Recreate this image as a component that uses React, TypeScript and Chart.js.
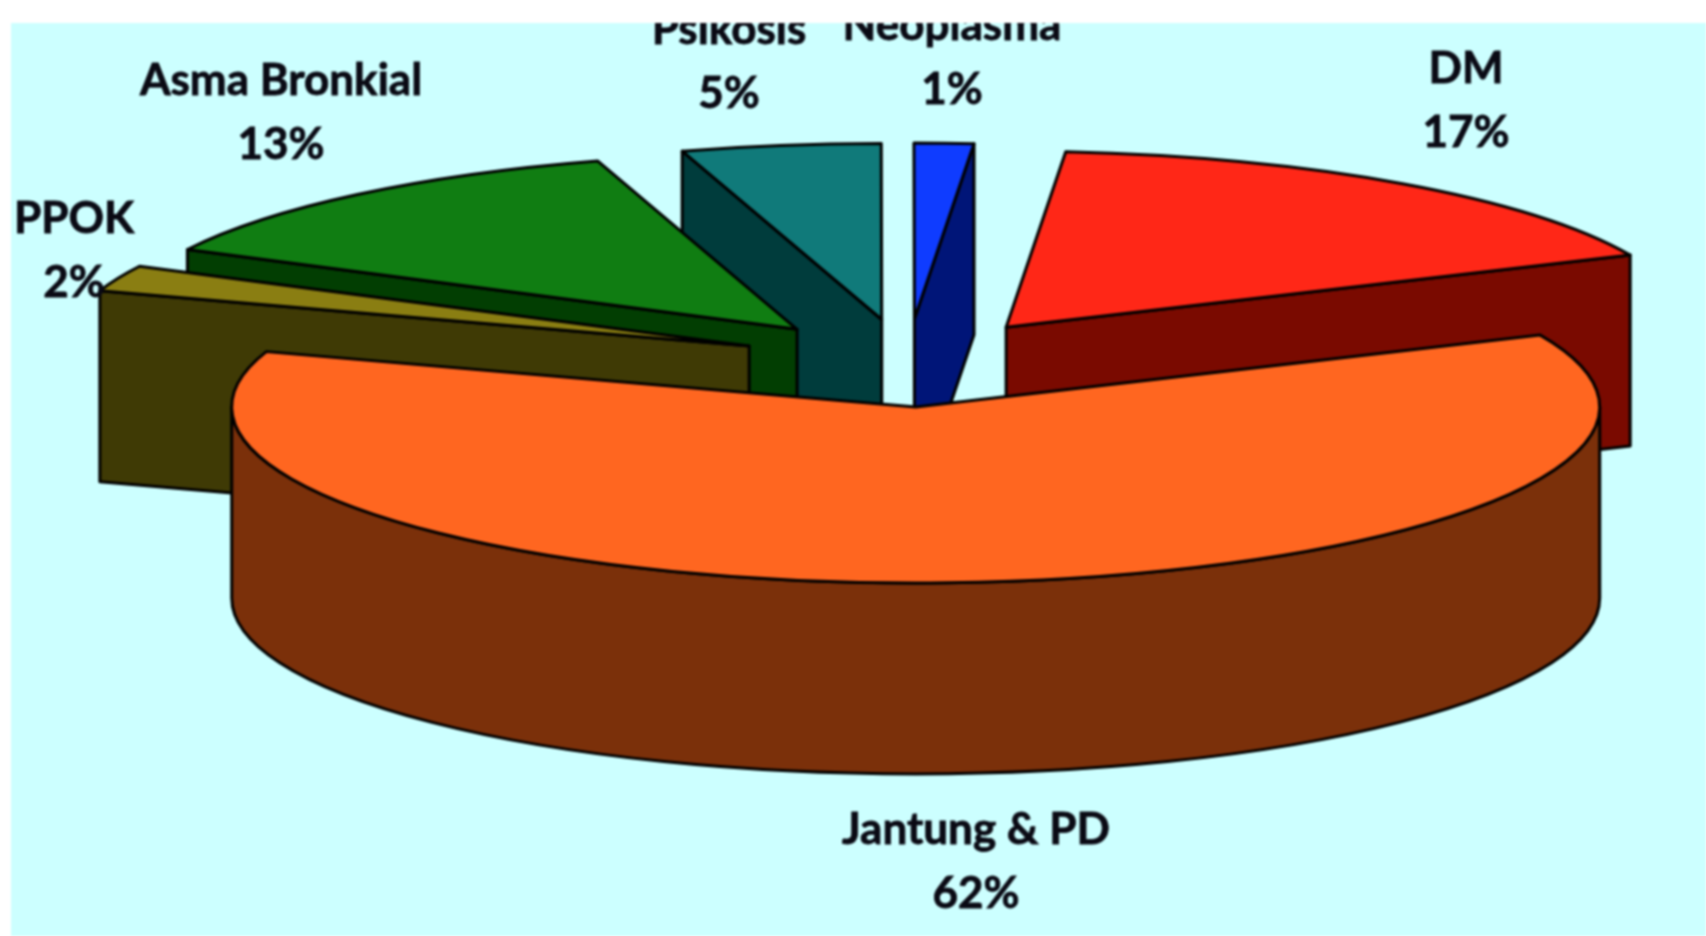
import React, { useEffect, useRef } from "react";
import { Chart, registerables } from "chart.js";

Chart.register(...registerables);

const categories = ["DM", "Jantung & PD", "PPOK", "Asma Bronkial", "Psikosis", "Neoplasma"];
const percentages = [16.9, 61.8, 2.4, 12.8, 4.7, 1.4];
const faceColors = ["#FF2717", "#FF6620", "#8A7E12", "#107D12", "#107A7A", "#0F3CFF"];
const wallColors = ["#7A0A00", "#7B300A", "#3F3A05", "#023E02", "#003C3C", "#001578"];

const labelCenters = [
  [1466, 69], [976, 830], [74, 219], [281, 81], [729, 30], [952, 26],
];
const LINE_GAP = 64;
const FONT = 'bold 44px Lato, "Open Sans", sans-serif';

const VIEW = { cx: 907, cy: 363, rx: 684, ry: 176, depth: 191, explode: 0.25, left: 11, top: 23 };

const pie3d = {
  id: "pie3d",
  beforeDraw(chart: any) {
    const { ctx, width, height } = chart;
    ctx.save();
    ctx.fillStyle = "#FFFFFF";
    ctx.fillRect(0, 0, width, height);
    ctx.fillStyle = "#CCFFFF";
    ctx.fillRect(VIEW.left, VIEW.top, width - VIEW.left, height - VIEW.top);
    ctx.restore();
  },
  beforeDatasetsDraw(chart: any) {
    const { ctx } = chart;
    const arcs = chart.getDatasetMeta(0).data.map((arc: any, index: number) => ({ arc, index }));
    const mid = (a: any) => (a.arc.startAngle + a.arc.endAngle) / 2;
    // far slices first: painter's order on the tilted plane
    arcs.sort((a: any, b: any) => Math.sin(mid(a)) - Math.sin(mid(b)));

    ctx.save();
    ctx.lineWidth = 3;
    ctx.strokeStyle = "#000000";
    ctx.lineJoin = "round";
    const { rx, ry, depth, explode } = VIEW;

    for (const { arc, index } of arcs) {
      const s = arc.startAngle;
      const e = arc.endAngle;
      const m = (s + e) / 2;
      const ox = VIEW.cx + rx * explode * Math.cos(m);
      const oy = VIEW.cy + ry * explode * Math.sin(m);
      const wall = wallColors[index];

      const radial = (a: number) => {
        const x = ox + rx * Math.cos(a);
        const y = oy + ry * Math.sin(a);
        ctx.beginPath();
        ctx.moveTo(x, y);
        ctx.lineTo(x, y + depth);
        ctx.lineTo(ox, oy + depth);
        ctx.lineTo(ox, oy);
        ctx.closePath();
        ctx.fillStyle = wall;
        ctx.fill();
        ctx.stroke();
      };
      // A cut face shows only when it turns towards the viewer
      if (Math.cos(s) < -0.01) radial(s);
      if (Math.cos(e) > 0.01) radial(e);

      const lo = Math.max(s, 0);
      const hi = Math.min(e, Math.PI);
      if (hi > lo) {
        ctx.beginPath();
        ctx.ellipse(ox, oy, rx, ry, 0, lo, hi, false);
        ctx.ellipse(ox, oy + depth, rx, ry, 0, hi, lo, true);
        ctx.closePath();
        ctx.fillStyle = wall;
        ctx.fill();
        ctx.stroke();
      }

      ctx.beginPath();
      ctx.moveTo(ox, oy);
      ctx.ellipse(ox, oy, rx, ry, 0, s, e, false);
      ctx.closePath();
      ctx.fillStyle = arc.options.backgroundColor;
      ctx.fill();
      ctx.stroke();
    }
    ctx.restore();

    // Data labels, cut by the top of the plot frame as in the source
    ctx.save();
    ctx.beginPath();
    ctx.rect(0, VIEW.top, chart.width, chart.height - VIEW.top);
    ctx.clip();
    ctx.fillStyle = "#0A0A14";
    ctx.strokeStyle = "#0A0A14";
    ctx.lineWidth = 0.8;
    ctx.font = FONT;
    ctx.textAlign = "center";
    ctx.textBaseline = "middle";
    categories.forEach((name, i) => {
      const [x, y] = labelCenters[i];
      const pct = Math.round(percentages[i]) + "%";
      ctx.fillText(name, x, y);
      ctx.strokeText(name, x, y);
      ctx.fillText(pct, x, y + LINE_GAP);
      ctx.strokeText(pct, x, y + LINE_GAP);
    });
    ctx.restore();
    return false;
  },
};

export default function App() {
  const ref = useRef<HTMLCanvasElement>(null);
  useEffect(() => {
    document.body.style.margin = "0";
    const chart = new Chart(ref.current as HTMLCanvasElement, {
      type: "pie",
      data: {
        labels: categories,
        datasets: [{ data: percentages, backgroundColor: faceColors, borderWidth: 0 }],
      },
      options: {
        responsive: false,
        animation: false,
        rotation: 5,
        plugins: { legend: { display: false }, tooltip: { enabled: false } },
      },
      plugins: [pie3d],
    } as any);
    return () => chart.destroy();
  }, []);
  return (
    <canvas
      ref={ref}
      width={1706}
      height={936}
      style={{ display: "block", width: 1706, height: 936, filter: "blur(0.8px)" }}
    />
  );
}
